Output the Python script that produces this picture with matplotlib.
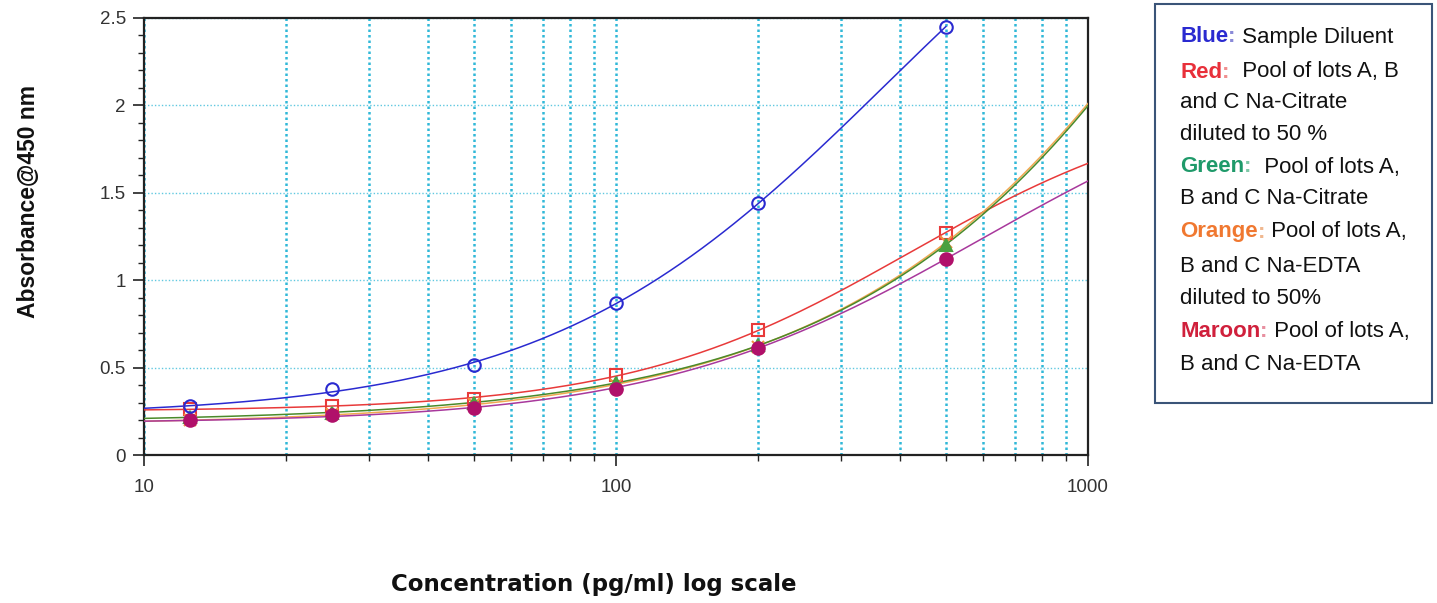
import numpy as np
import matplotlib
matplotlib.use("Agg")
import matplotlib.pyplot as plt
from matplotlib.ticker import FixedLocator, NullFormatter, LogLocator
from matplotlib.patches import Rectangle

# ---------------- data ----------------
conc = [12.5, 25, 50, 100, 200, 500]

blue_vals = [0.28, 0.38, 0.515, 0.87, 1.44, 2.45]
red_vals = [0.265, 0.28, 0.32, 0.46, 0.715, 1.27]
green_vals = [0.22, 0.24, 0.30, 0.41, 0.63, 1.20]
orange_vals = [0.20, 0.235, 0.29, 0.40, 0.62, 1.22]
maroon_vals = [0.20, 0.23, 0.27, 0.38, 0.61, 1.12]

# fitted-curve end readings (at x=10 and x=1000)
curve_x_start = 10
curve_x_end = 1000
blue_curve_ends = [0.26, None]      # blue curve stops at the last point
red_curve_ends = [0.255, 1.67]
green_curve_ends = [0.21, 2.00]
orange_curve_ends = [0.19, 2.01]
maroon_curve_ends = [0.19, 1.57]

yticks = [0, 0.5, 1, 1.5, 2, 2.5]
ytick_labels = ["0", "0.5", "1", "1.5", "2", "2.5"]
xticks = [10, 100, 1000]
xtick_labels = ["10", "100", "1000"]

x_label = "Concentration (pg/ml) log scale"
y_label = "Absorbance@450 nm"

legend_lines = [
    [("Blue", "#2a2ad0"), (":", "#8a8ad8"), (" Sample Diluent", "#111111")],
    [("Red", "#e8303a"), (":", "#f09090"), ("  Pool of lots A, B", "#111111")],
    [("and C Na-Citrate", "#111111")],
    [("diluted to 50 %", "#111111")],
    [("Green", "#1f9a6a"), (":", "#80c8a8"), ("  Pool of lots A,", "#111111")],
    [("B and C Na-Citrate", "#111111")],
    [("Orange", "#f07830"), (":", "#f0b890"), (" Pool of lots A,", "#111111")],
    [("B and C Na-EDTA", "#111111")],
    [("diluted to 50%", "#111111")],
    [("Maroon", "#d0203c"), (":", "#e890a0"), (" Pool of lots A,", "#111111")],
    [("B and C Na-EDTA", "#111111")],
]

# ---------------- figure ----------------
W, H = 1437, 603
fig = plt.figure(figsize=(W / 100, H / 100), dpi=100)
fig.patch.set_facecolor("white")

ax = fig.add_axes([144 / W, 1 - 455 / H, (1088 - 144) / W, (455 - 18) / H])
ax.set_xscale("log")
ax.set_xlim(10, 1000)
ax.set_ylim(0, 2.5)

# grid
grid_col = "#30b8d8"
ax.set_axisbelow(True)
ax.xaxis.set_major_locator(FixedLocator(xticks))
ax.xaxis.set_minor_locator(LogLocator(base=10, subs=np.arange(2, 10)))
ax.xaxis.set_minor_formatter(NullFormatter())
ax.set_xticklabels(xtick_labels)
ax.set_yticks(yticks)
ax.set_yticklabels(ytick_labels)
ax.yaxis.set_minor_locator(FixedLocator(np.arange(0, 2.51, 0.1)))
ax.grid(which="both", axis="x", color=grid_col, linestyle=(0, (1, 1.2)), linewidth=1.8)
ax.grid(which="major", axis="y", color="#60c8e0", linestyle=(0, (1, 1.5)), linewidth=1.0)

for s in ax.spines.values():
    s.set_color("#222222")
    s.set_linewidth(1.6)

ax.tick_params(axis="both", which="major", direction="out", length=8, width=1.2,
               color="#222222", labelsize=13.5, labelcolor="#333333")
ax.tick_params(axis="both", which="minor", direction="out", length=4, width=1.0,
               color="#222222")
ax.tick_params(axis="x", which="major", pad=9)
ax.tick_params(axis="y", which="major", pad=5)
for lab in ax.get_xticklabels() + ax.get_yticklabels():
    lab.set_fontfamily(["Liberation Sans", "DejaVu Sans"])


def fit_curve(vals, ends, x_end):
    """Four-parameter logistic fit (grid search on slope/EC50, linear LS for asymptotes)."""
    xs = [curve_x_start] + list(conc)
    ys = [ends[0]] + list(vals)
    if ends[1] is not None:
        xs = xs + [curve_x_end]
        ys = ys + [ends[1]]
    xs = np.asarray(xs, float)
    ys = np.asarray(ys, float)
    best = None
    for b in np.linspace(0.6, 3.5, 59):
        for c in np.logspace(1.5, 5, 141):
            g = 1.0 / (1.0 + (xs / c) ** b)
            A = np.column_stack([np.ones_like(g), g])
            sol, *_ = np.linalg.lstsq(A, ys, rcond=None)
            err = np.sum((A @ sol - ys) ** 2)
            if best is None or err < best[0]:
                best = (err, b, c, sol)
    _, b, c, sol = best
    xx = np.logspace(np.log10(curve_x_start), np.log10(x_end), 300)
    gg = 1.0 / (1.0 + (xx / c) ** b)
    return xx, sol[0] + sol[1] * gg


series = [
    # vals, ends, curve colour, marker, marker face, marker edge, curve end
    (red_vals, red_curve_ends, "#e83a3a", "s", "none", "#e83a3a", curve_x_end),
    (orange_vals, orange_curve_ends, "#f0a850", "x", "none", "#f09040", curve_x_end),
    (green_vals, green_curve_ends, "#4a8a2a", "^", "#4aa040", "#4aa040", curve_x_end),
    (maroon_vals, maroon_curve_ends, "#a8389c", "o", "#b0106a", "#b0106a", curve_x_end),
    (blue_vals, blue_curve_ends, "#2a2ad0", "o", "none", "#2a2ad0", 500),
]

for vals, ends, col, mk, mfc, mec, xend in series:
    cx, cy = fit_curve(vals, ends, xend)
    ax.plot(cx, cy, color=col, linewidth=1.1, zorder=3, clip_on=True)

for vals, ends, col, mk, mfc, mec, xend in series:
    ax.plot(conc, vals, linestyle="none", marker=mk, markersize=9,
            markerfacecolor=mfc, markeredgecolor=mec, markeredgewidth=1.5,
            zorder=4, clip_on=False)

# axis labels
fig.text(29 / W, 1 - 202 / H, y_label, rotation=90, ha="center", va="center",
         fontsize=16.5, fontweight="bold", color="#111111",
         family=["Liberation Sans", "DejaVu Sans"])
fig.text(594 / W, 1 - 585 / H, x_label, ha="center", va="center",
         fontsize=16.5, fontweight="bold", color="#111111",
         family=["DejaVu Sans"])

# legend box
fig.patches.append(Rectangle((1155 / W, 1 - 403 / H), (1432 - 1155) / W, (403 - 4) / H,
                             transform=fig.transFigure, fill=False,
                             edgecolor="#3a5478", linewidth=1.5))

renderer = fig.canvas.get_renderer()
line_y = [37, 72, 103, 134, 167, 199, 232, 266, 298, 331, 365]
for parts, yy in zip(legend_lines, line_y):
    xpix = 1180
    for txt, col in parts:
        t = fig.text(xpix / W, 1 - yy / H, txt, ha="left", va="center",
                     fontsize=16, color=col,
                     family=["Liberation Sans", "DejaVu Sans"],
                     fontweight="bold" if col != "#111111" else "normal")
        bb = t.get_window_extent(renderer)
        xpix = bb.x1

fig.savefig("out.png", dpi=100, facecolor="white")
